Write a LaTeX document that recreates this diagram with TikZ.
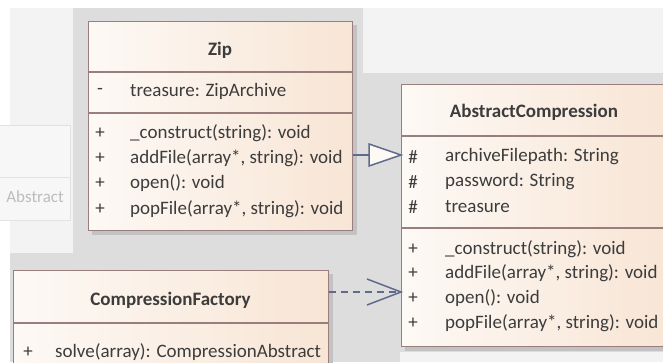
\documentclass[tikz,border=0pt]{standalone}
\usepackage{fontspec}
\setmainfont{Carlito}
\definecolor{bggray}{HTML}{DDDDDD}
\definecolor{bglight}{HTML}{F3F3F3}
\definecolor{shadowc}{HTML}{C2C2C2}
\definecolor{bordc}{HTML}{9A7E7E}
\definecolor{txtc}{HTML}{3C3C3C}
\definecolor{arrowc}{HTML}{5E6B8A}
\definecolor{boxl}{HTML}{FDF9F5}
\definecolor{boxr}{HTML}{F8E5D5}
\definecolor{fadeb}{HTML}{E2E2E2}
\definecolor{fadet}{HTML}{BDBDBD}
\begin{document}
\begin{tikzpicture}[x=1pt,y=-1pt,
  classbox/.style={draw=bordc, line width=1.3pt, left color=boxl, right color=boxr,
    inner sep=0pt, anchor=north west},
  sepline/.style={draw=bordc, line width=1.3pt},
  member/.style={anchor=west, inner sep=0pt, text=txtc, font=\fontsize{19}{19}\selectfont},
  vis/.style={anchor=center, inner sep=0pt, text=txtc, font=\fontsize{19}{19}\selectfont},
  ctitle/.style={anchor=center, inner sep=0pt, text=txtc, font=\fontsize{19}{19}\selectfont\bfseries},
  conn/.style={draw=arrowc, line width=1.5pt},
]
\useasboundingbox (0,0) rectangle (663,362);
\clip (0,0) rectangle (663,362);
% background
\fill[white] (0,0) rectangle (663,362);
\fill[bggray] (10,8) rectangle (663,362);
\fill[bglight] (10,8) rectangle (73,253);
\fill[bglight] (363,8) rectangle (663,73);
\fill[bglight] (400,352) rectangle (663,362);

% faded partial class on the left
\node[draw=fadeb, line width=1pt, fill=white!97!black, inner sep=0pt, anchor=north west,
  minimum width=80pt, minimum height=95pt] (ghost) at (-10,125) {};
\draw[fadeb, line width=1pt] (ghost.west |- 0,177) -- (ghost.east |- 0,177);
\node[anchor=east, inner sep=0pt, text=fadet, font=\fontsize{17}{17}\selectfont] (ghosttxt) at (64,197) {Abstract};

% shadows
\fill[shadowc] (92,25) rectangle (357,235);
\fill[shadowc] (405,88) rectangle (672,351);
\fill[shadowc] (17,274) rectangle (333,380);

% Zip
\node[classbox, minimum width=264pt, minimum height=209pt] (zip) at (88,21) {};
\draw[sepline] (zip.west |- 0,72) -- (zip.east |- 0,72);
\draw[sepline] (zip.west |- 0,113) -- (zip.east |- 0,113);
\node[ctitle] (ziptitle) at (220,50) {Zip};
\node[vis] (zv1) at (100,91) {-};
\node[member] (za1) at (130,91) {treasure: ZipArchive};
\node[vis] (zv2) at (100,133) {+};
\node[member] (zo1) at (130,133) {\_construct(string): void};
\node[vis] (zv3) at (100,158) {+};
\node[member] (zo2) at (130,158) {addFile(array*, string): void};
\node[vis] (zv4) at (100,183) {+};
\node[member] (zo3) at (130,183) {open(): void};
\node[vis] (zv5) at (100,209) {+};
\node[member] (zo4) at (130,209) {popFile(array*, string): void};

% AbstractCompression
\node[classbox, minimum width=266pt, minimum height=262pt] (abs) at (401,84) {};
\draw[sepline] (abs.west |- 0,136) -- (abs.east |- 0,136);
\draw[sepline] (abs.west |- 0,228) -- (abs.east |- 0,228);
\node[ctitle] (abstitle) at (534,112) {AbstractCompression};
\node[vis] (av1) at (413,157) {\#};
\node[member] (aa1) at (445,157) {archiveFilepath: String};
\node[vis] (av2) at (413,182) {\#};
\node[member] (aa2) at (445,182) {password: String};
\node[vis] (av3) at (413,207) {\#};
\node[member] (aa3) at (445,207) {treasure};
\node[vis] (av4) at (413,249) {+};
\node[member] (ao1) at (445,249) {\_construct(string): void};
\node[vis] (av5) at (413,273.5) {+};
\node[member] (ao2) at (445,273.5) {addFile(array*, string): void};
\node[vis] (av6) at (413,298) {+};
\node[member] (ao3) at (445,298) {open(): void};
\node[vis] (av7) at (413,323) {+};
\node[member] (ao4) at (445,323) {popFile(array*, string): void};

% CompressionFactory
\node[classbox, minimum width=315pt, minimum height=106pt] (fac) at (13,270) {};
\draw[sepline] (fac.west |- 0,323) -- (fac.east |- 0,323);
\node[ctitle] (factitle) at (170.5,300) {CompressionFactory};
\node[vis] (fv1) at (28,352) {+};
\node[member] (fo1) at (55,352) {solve(array): CompressionAbstract};

% generalization Zip -> AbstractCompression
\coordinate (gbase) at (369,155);
\draw[conn] (zip.east |- gbase) -- (gbase);
\draw[conn, fill=boxl, line join=miter] (gbase) -- ++(0,-11) -- (abs.west |- gbase) -- (369,166) -- cycle;

% dependency CompressionFactory -> AbstractCompression
\coordinate (dtip) at (abs.west |- 0,292);
\draw[conn, dash pattern=on 7pt off 5pt] (fac.east |- dtip) -- (dtip);
\draw[conn, line join=miter] (367,279) -- (dtip) -- (367,305);
\end{tikzpicture}
\end{document}
